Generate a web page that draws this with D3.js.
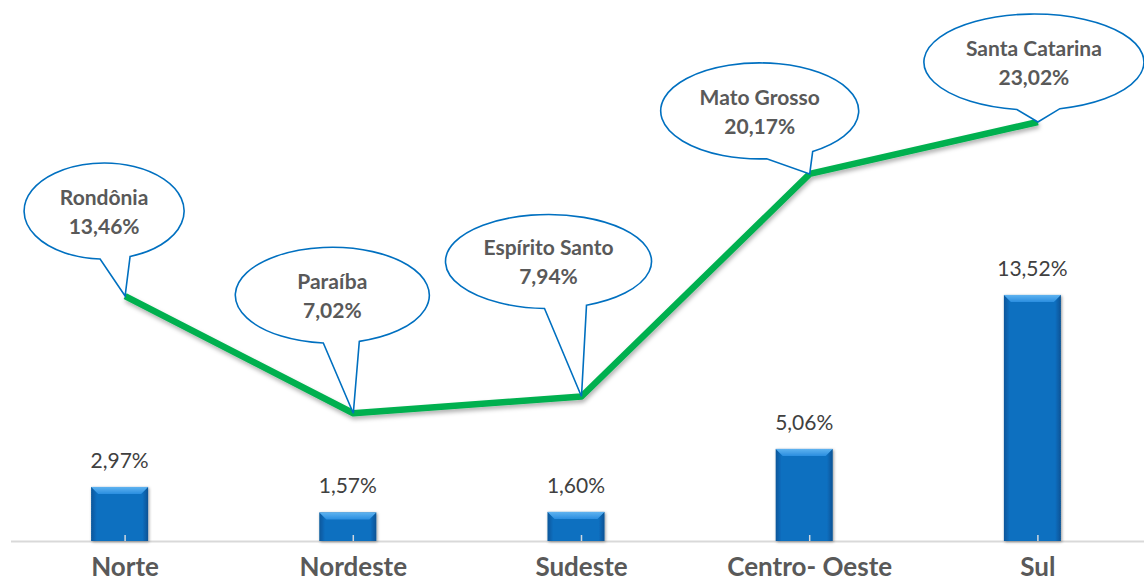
<!DOCTYPE html>
<html>
<head>
<meta charset="utf-8">
<script src="https://cdn.jsdelivr.net/npm/d3@7"></script>
<style>
  html, body { margin: 0; padding: 0; background: #fff; }
  svg { display: block; }
</style>
</head>
<body>
<svg id="chart" width="1144" height="582"></svg>
<script>
// ---- data ----
const regions = ["Norte", "Nordeste", "Sudeste", "Centro- Oeste", "Sul"];
const regionValues = [2.97, 1.57, 1.60, 5.06, 13.52];
const states = ["Rondônia", "Paraíba", "Espírito Santo", "Mato Grosso", "Santa Catarina"];
const stateValues = [13.46, 7.02, 7.94, 20.17, 23.02];

// ---- callout layout (relative to the line point) ----
const calloutLayout = [
  { dx: -21, dy: -85,  rx: 80,  ry: 48, t1: -4,  t2: 26 },
  { dx: -21, dy: -118, rx: 97,  ry: 48, t1: -9,  t2: 27 },
  { dx: -33, dy: -135, rx: 103, ry: 47, t1: -4,  t2: 38 },
  { dx: -50, dy: -63,  rx: 99,  ry: 48, t1: 7,   t2: 53 },
  { dx: -4,  dy: -60,  rx: 110, ry: 48, t1: -17, t2: 26 }
];

const fmt = v => v.toFixed(2).replace(".", ",") + "%";

const svg = d3.select("#chart");
const W = 1144, H = 582;
const baseY = 541;

const x = d3.scaleBand().domain(regions).range([11, 1152]).paddingInner(0).paddingOuter(0);
const y = d3.scaleLinear().domain([0, 25]).range([baseY, baseY - 455]);
const cx = c => x(c) + x.bandwidth() / 2;
const barW = 57, barShift = -5.5;

const defs = svg.append("defs");
const g1 = defs.append("linearGradient").attr("id", "barGrad").attr("x1", 0).attr("x2", 1).attr("y1", 0).attr("y2", 0);
g1.append("stop").attr("offset", "0%").attr("stop-color", "#07569a");
g1.append("stop").attr("offset", "10%").attr("stop-color", "#0a6fc0");
g1.append("stop").attr("offset", "90%").attr("stop-color", "#0a6fc0");
g1.append("stop").attr("offset", "100%").attr("stop-color", "#075294");
const g2 = defs.append("linearGradient").attr("id", "bevelGrad").attr("x1", 0).attr("x2", 0).attr("y1", 0).attr("y2", 1);
g2.append("stop").attr("offset", "0%").attr("stop-color", "#5fb3f0");
g2.append("stop").attr("offset", "100%").attr("stop-color", "#2a8ee0");

const shadow = defs.append("filter").attr("id", "shadow").attr("x", "-10%").attr("y", "-10%").attr("width", "130%").attr("height", "140%");
shadow.append("feDropShadow").attr("dx", 1).attr("dy", 3).attr("stdDeviation", 2).attr("flood-color", "#000").attr("flood-opacity", 0.3);
const shadowSmall = defs.append("filter").attr("id", "shadowSmall").attr("x", "-20%").attr("y", "-20%").attr("width", "140%").attr("height", "140%");
shadowSmall.append("feDropShadow").attr("dx", 1).attr("dy", 1).attr("stdDeviation", 1.5).attr("flood-color", "#000").attr("flood-opacity", 0.4);

// axis line
svg.append("line")
  .attr("x1", 11).attr("x2", W).attr("y1", baseY + 0.5).attr("y2", baseY + 0.5)
  .attr("stroke", "#d9d9d9").attr("stroke-width", 2);

// bars
const bars = svg.append("g").selectAll("g").data(regions).join("g")
  .attr("filter", "url(#shadowSmall)");
bars.append("rect")
  .attr("x", d => cx(d) + barShift - barW / 2)
  .attr("y", (d, i) => y(regionValues[i]))
  .attr("width", barW)
  .attr("height", (d, i) => baseY - y(regionValues[i]))
  .attr("fill", "url(#barGrad)");
bars.append("path")
  .attr("d", (d, i) => {
    const l = cx(d) + barShift - barW / 2, r = l + barW, t = y(regionValues[i]), b = 7;
    return `M${l},${t}L${r},${t}L${r - b},${t + b}L${l + b},${t + b}Z`;
  })
  .attr("fill", "url(#bevelGrad)");
// small tick marks
svg.append("g").selectAll("line").data(regions).join("line")
  .attr("x1", d => cx(d)).attr("x2", d => cx(d))
  .attr("y1", baseY - 6).attr("y2", baseY)
  .attr("stroke", "#d0d8e0").attr("stroke-width", 1.5);

// bar value labels
svg.append("g").selectAll("text").data(regions).join("text")
  .attr("x", d => cx(d) + barShift)
  .attr("y", (d, i) => y(regionValues[i]) - 19)
  .attr("text-anchor", "middle")
  .attr("font-family", "Lato, 'Open Sans', sans-serif")
  .attr("font-size", 21)
  .attr("fill", "#404040")
  .text((d, i) => fmt(regionValues[i]));

// category labels
svg.append("g").selectAll("text").data(regions).join("text")
  .attr("x", d => cx(d))
  .attr("y", 576)
  .attr("text-anchor", "middle")
  .attr("font-family", "Lato, 'Open Sans', sans-serif")
  .attr("font-weight", "bold")
  .attr("font-size", 26)
  .attr("fill", "#595959")
  .text(d => d);

// line
const pts = regions.map((r, i) => [cx(r), y(stateValues[i])]);
svg.append("path")
  .datum(pts)
  .attr("d", d3.line())
  .attr("fill", "none")
  .attr("stroke", "#00b050")
  .attr("stroke-width", 6.5)
  .attr("stroke-linejoin", "round")
  .attr("filter", "url(#shadow)");

// callouts
const callouts = svg.append("g").selectAll("g").data(states).join("g");
callouts.append("path")
  .attr("d", (d, i) => {
    const [px, py] = pts[i];
    const L = calloutLayout[i];
    const ex = px + L.dx, ey = py + L.dy;
    const bx1 = ex + L.t1, bx2 = ex + L.t2;
    const by = bx => ey + L.ry * Math.sqrt(Math.max(0, 1 - Math.pow((bx - ex) / L.rx, 2)));
    return `M${bx1},${by(bx1)} A${L.rx},${L.ry} 0 1 1 ${bx2},${by(bx2)} L${px},${py} Z`;
  })
  .attr("fill", "#fff")
  .attr("stroke", "#0070c0")
  .attr("stroke-width", 1.6)
  .attr("stroke-linejoin", "miter");
callouts.append("text")
  .attr("x", (d, i) => pts[i][0] + calloutLayout[i].dx)
  .attr("y", (d, i) => pts[i][1] + calloutLayout[i].dy - 6)
  .attr("text-anchor", "middle")
  .attr("font-family", "Lato, 'Open Sans', sans-serif")
  .attr("font-weight", "bold")
  .attr("font-size", 21)
  .attr("fill", "#595959")
  .text(d => d);
callouts.append("text")
  .attr("x", (d, i) => pts[i][0] + calloutLayout[i].dx)
  .attr("y", (d, i) => pts[i][1] + calloutLayout[i].dy + 23)
  .attr("text-anchor", "middle")
  .attr("font-family", "Lato, 'Open Sans', sans-serif")
  .attr("font-weight", "bold")
  .attr("font-size", 21)
  .attr("fill", "#595959")
  .text((d, i) => fmt(stateValues[i]));
</script>
</body>
</html>
